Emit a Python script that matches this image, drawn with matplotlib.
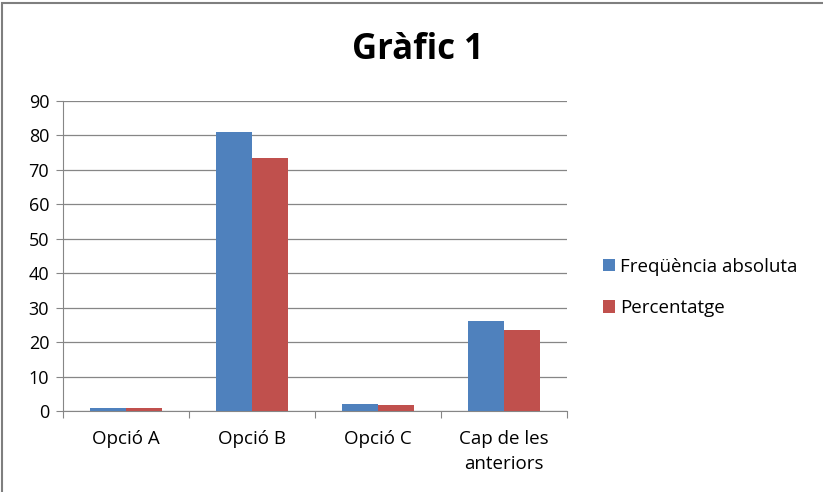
import matplotlib.pyplot as plt
import numpy as np
from matplotlib.patches import Rectangle

plt.rcParams['font.family'] = ['Open Sans', 'DejaVu Sans']

# data
categories = ["Opció A", "Opció B", "Opció C", "Cap de les\nanteriors"]
freq_abs = [1, 81, 2, 26]
percent = [0.9, 73.6, 1.8, 23.6]
series_names = ["Freqüència absoluta", "Percentatge"]
colors = ["#4F81BD", "#C0504D"]

fig = plt.figure(figsize=(8.23, 4.92), dpi=100)
ax = fig.add_axes([0.0766, 0.1646, 0.6124, 0.630])

x = np.arange(len(categories))
w = 1 / 3.5
ax.bar(x - w / 2, freq_abs, w, color=colors[0], label=series_names[0], zorder=3)
ax.bar(x + w / 2, percent, w, color=colors[1], label=series_names[1], zorder=3)

ax.set_xlim(-0.5, len(categories) - 0.5)
ax.set_ylim(0, 90)
ax.set_yticks(range(0, 91, 10))
ax.yaxis.grid(True, color="#868686", linewidth=0.9, zorder=0)

ax.set_xticks(np.arange(-0.5, len(categories), 1))
ax.set_xticklabels([])
ax.set_xticks(x, minor=True)
ax.set_xticklabels(categories, minor=True, fontsize=13.5, linespacing=1.45)
ax.tick_params(axis="x", which="minor", length=0, pad=14)
ax.tick_params(axis="x", which="major", length=5, color="#868686", direction="out")
ax.tick_params(axis="y", length=5, color="#868686", labelsize=13, pad=5)

for s in ["top", "right"]:
    ax.spines[s].set_visible(False)
for s in ["left", "bottom"]:
    ax.spines[s].set_color("#868686")

fig.text(0.508, 0.898, "Gràfic 1", ha="center", va="center",
         fontsize=25, fontweight="bold")

fig.legend(loc="center left", bbox_to_anchor=(0.712, 0.416), frameon=False,
           fontsize=13.5, handlelength=0.65, handleheight=0.65,
           handletextpad=0.25, labelspacing=1.25)

fig.patches.append(Rectangle((0.003, -0.01), 1.1, 1.004, transform=fig.transFigure,
                             fill=False, edgecolor="#7f7f7f", linewidth=1.5))

fig.savefig("out.png", dpi=100)
